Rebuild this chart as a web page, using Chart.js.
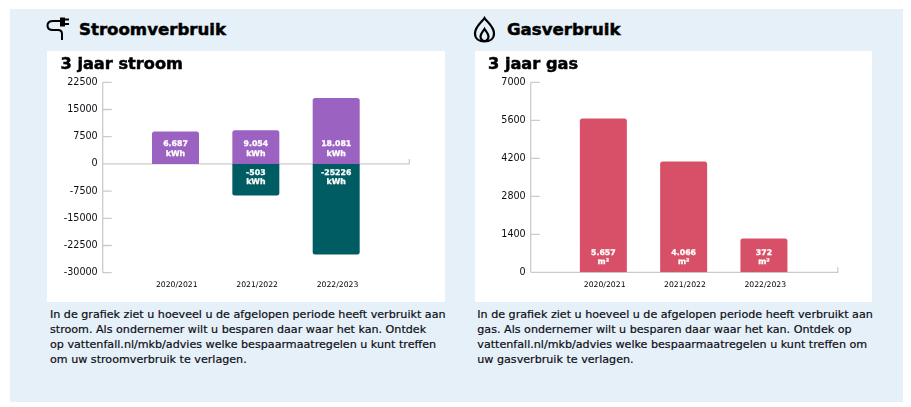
<!DOCTYPE html>
<html lang="nl">
<head>
<meta charset="utf-8">
<title>Stroomverbruik en gasverbruik</title>
<script src="https://cdn.jsdelivr.net/npm/chart.js@4/dist/chart.umd.min.js"></script>
<style>
  html, body { margin: 0; padding: 0; background: #fff; }
  body { width: 911px; height: 407px; position: relative; overflow: hidden; font-family: "DejaVu Sans", sans-serif; color: #0c0c14; }
  .bg { position: absolute; left: 10px; top: 9px; width: 893px; height: 393px; background: #e6f0f8; }
  .panel { position: absolute; top: 51px; width: 397.5px; height: 250.5px; background: #fff; }
  .panel canvas { position: absolute; left: 0; top: 0; }
  h2, h3 { position: absolute; margin: 0; font-weight: 700; color: #000; white-space: nowrap; }
  h2 { top: 20px; font-size: 16.6px; line-height: 20px; -webkit-text-stroke: 0.5px #000; }
  h3 { top: 54px; font-size: 16.2px; line-height: 20px; -webkit-text-stroke: 0.5px #000; }
  .tekst { position: absolute; top: 306.5px; font-size: 11.13px; line-height: 15px; white-space: nowrap; -webkit-text-stroke: 0.2px #0c0c14; }
  svg { position: absolute; fill: none; stroke: #000; }
</style>
</head>
<body>
<div class="bg"></div>

<svg style="left:45px;top:16px" width="26" height="25" viewBox="0 0 26 25" stroke-width="2">
  <path d="M16 5H8Q2.500 5 2.500 9.500T8 14H13Q17 14 17 18V24" />
  <path d="M16 2.500H19V9.500H16Z" fill="#000" />
  <path d="M19 3.500H24M19 8H24" stroke-width="2.200" />
</svg>
<h2 style="left:79px">Stroomverbruik</h2>

<svg style="left:473px;top:16px" width="23" height="27" viewBox="0 0 23 27" stroke-width="2.200">
  <path d="M11.500 2C9 6 2 10.500 2 17.500C2 22.500 6 25.500 11.500 25.500S21 22.500 21 17.500C21 10.500 14 6 11.500 2Z" />
  <path d="M11.500 13C10 15.500 7.500 17.500 7.500 20.500C7.500 23 9.500 25 11.500 25S15.500 23 15.500 20.500C15.500 17.500 13 15.500 11.500 13Z" />
</svg>
<h2 style="left:507px">Gasverbruik</h2>

<div class="panel" style="left:47.300px"><canvas id="chartStroom" width="398" height="251"></canvas></div>
<div class="panel" style="left:474.700px"><canvas id="chartGas" width="398" height="251"></canvas></div>

<h3 style="left:60.500px">3 jaar stroom</h3>
<h3 style="left:488px">3 jaar gas</h3>

<div class="tekst" style="left:50px">In de grafiek ziet u hoeveel u de afgelopen periode heeft verbruikt aan<br>stroom. Als ondernemer wilt u besparen daar waar het kan. Ontdek<br>op vattenfall.nl/mkb/advies welke bespaarmaatregelen u kunt treffen<br>om uw stroomverbruik te verlagen.</div>
<div class="tekst" style="left:477.300px">In de grafiek ziet u hoeveel u de afgelopen periode heeft verbruikt aan<br>gas. Als ondernemer wilt u besparen daar waar het kan. Ontdek op<br>vattenfall.nl/mkb/advies welke bespaarmaatregelen u kunt treffen om<br>uw gasverbruik te verlagen.</div>

<script>
// --- Data (balkhoogtes, labels staan er letterlijk zo)
const jaren = ["2020/2021", "2021/2022", "2022/2023"];

const stroomVerbruik = [8950, 9250, 18200];
const stroomTeruglevering = [null, -8700, -25000];
const stroomVerbruikLabels = ["6.687", "9.054", "18.081"];
const stroomTerugLabels = [null, "-503", "-25226"];
const stroomTicks = [22500, 15000, 7500, 0, -7500, -15000, -22500, -30000];

const gasVerbruik = [5667, 4085, 1245];
const gasLabels = ["5.657", "4.066", "372"];
const gasTicks = [7000, 5600, 4200, 2800, 1400, 0];

const PAARS = "#9c62c2";
const TEAL = "#005c63";
const ROZE = "#d85068";
const LIJN = "#cbcbcb";
const TEKST = "#0c0c14";

// --- Assen: lijn, streepjes naar rechts en nullijn met eindstreepje
const asLijnen = {
  id: "asLijnen",
  beforeDatasetsDraw(chart) {
    const { ctx, chartArea, scales } = chart;
    const nul = scales.y.getPixelForValue(0);
    ctx.save();
    ctx.strokeStyle = LIJN;
    ctx.lineWidth = 1.300;
    ctx.beginPath();
    ctx.moveTo(chartArea.left, chartArea.top);
    ctx.lineTo(chartArea.left, chartArea.bottom);
    scales.y.ticks.forEach((t) => {
      const y = scales.y.getPixelForValue(t.value);
      ctx.moveTo(chartArea.left, y);
      ctx.lineTo(chartArea.left + 9, y);
    });
    ctx.moveTo(chartArea.left, nul);
    ctx.lineTo(chartArea.right, nul);
    ctx.lineTo(chartArea.right, nul - 5);
    ctx.stroke();
    ctx.restore();
  },
};

// --- Witte waarde + eenheid onderin elke balk, gerekend vanaf de nullijn
const balkLabels = {
  id: "balkLabels",
  afterDatasetsDraw(chart) {
    const { ctx } = chart;
    ctx.save();
    ctx.fillStyle = "#fff";
    ctx.strokeStyle = "#fff";
    ctx.lineWidth = 0.300;
    ctx.textAlign = "center";
    ctx.textBaseline = "middle";
    ctx.font = "bold 7.800px 'DejaVu Sans'";
    chart.data.datasets.forEach((ds, i) => {
      chart.getDatasetMeta(i).data.forEach((bar, j) => {
        if (!ds.balkTekst[j]) return;
        const neg = ds.data[j].y < 0;
        const y1 = neg ? bar.base + 9 : bar.base - 19.600;
        const y2 = neg ? bar.base + 18.500 : bar.base - 10;
        ctx.fillText(ds.balkTekst[j], bar.x, y1);
        ctx.strokeText(ds.balkTekst[j], bar.x, y1);
        ctx.fillText(ds.eenheid, bar.x, y2);
        ctx.strokeText(ds.eenheid, bar.x, y2);
      });
    });
    ctx.restore();
  },
};

function punten(waarden) {
  return waarden.map((v, i) => ({ x: i + 1, y: v }));
}

function maakGrafiek(id, datasets, ticks, xMin, xMax, onder, rechts) {
  return new Chart(document.getElementById(id), {
    type: "bar",
    data: { datasets },
    plugins: [asLijnen, balkLabels],
    options: {
      responsive: false,
      animation: false,
      layout: { padding: { top: 31.300, right: rechts, bottom: onder, left: 0 } },
      plugins: { legend: { display: false }, tooltip: { enabled: false } },
      scales: {
        x: {
          type: "linear",
          offset: false,
          stacked: true,
          min: xMin,
          max: xMax,
          border: { display: false },
          grid: { display: false, drawTicks: false },
          afterBuildTicks: (s) => { s.ticks = jaren.map((_, i) => ({ value: i + 1 })); },
          afterFit: (s) => { s.height = 20; },
          ticks: {
            autoSkip: false,
            maxRotation: 0,
            padding: 8,
            labelOffset: 1.300,
            color: "#000",
            font: { family: "DejaVu Sans", size: 7.700 },
            callback: (v) => jaren[v - 1],
          },
        },
        y: {
          stacked: true,
          min: ticks[ticks.length - 1],
          max: ticks[0],
          border: { display: false },
          grid: { display: false, drawTicks: false },
          afterBuildTicks: (s) => { s.ticks = ticks.map((v) => ({ value: v })); },
          afterFit: (s) => { s.width = 55.700; },
          ticks: {
            padding: 5,
            color: TEKST,
            font: { family: "DejaVu Sans", size: 9.600 },
            callback: (v) => String(v),
          },
        },
      },
    },
  });
}

function balk(waarden, kleur, teksten, eenheid) {
  return {
    data: punten(waarden),
    backgroundColor: kleur,
    barThickness: 47,
    borderRadius: 2.500,
    inflateAmount: 0,
    balkTekst: teksten,
    eenheid,
  };
}

maakGrafiek(
  "chartStroom",
  [
    balk(stroomVerbruik, PAARS, stroomVerbruikLabels, "kWh"),
    balk(stroomTeruglevering, TEAL, stroomTerugLabels, "kWh"),
  ],
  stroomTicks, 0.094, 3.910, 9.300, 35.700
);

maakGrafiek(
  "chartGas",
  [balk(gasVerbruik, ROZE, gasLabels, "m²")],
  gasTicks, 0.095, 3.920, 9.700, 35.200
);
</script>
</body>
</html>
